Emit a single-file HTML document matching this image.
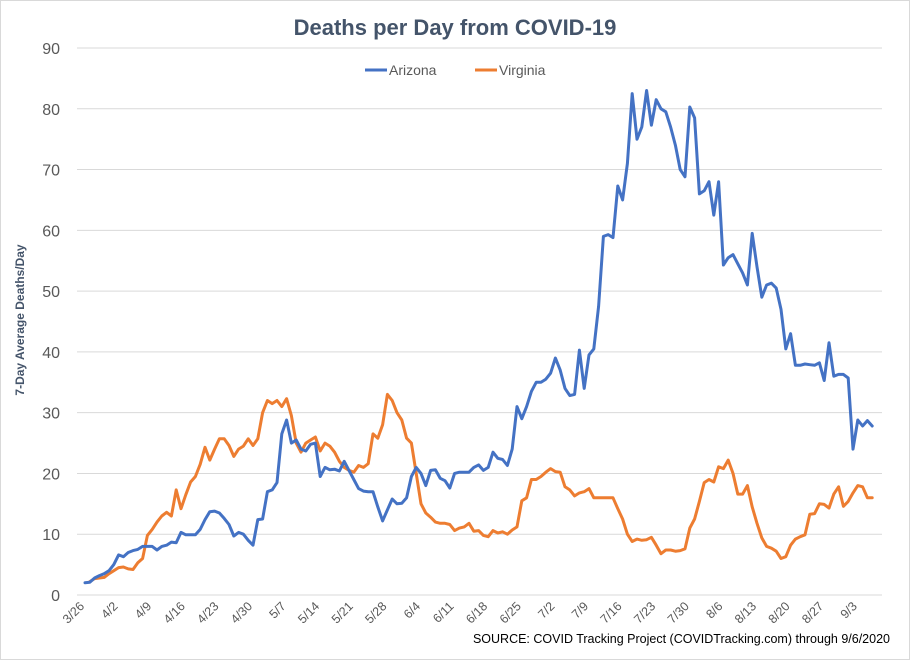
<!DOCTYPE html>
<html><head><meta charset="utf-8"><style>
body{margin:0;background:#fff}
svg{display:block;font-family:"Liberation Sans",sans-serif}
</style></head><body>
<svg id="chart" width="910" height="660">
<rect x="0.5" y="0.5" width="909" height="659" fill="#fff" stroke="#d9d9d9"/>
<text x="455" y="35" text-anchor="middle" font-size="22" font-weight="bold" fill="#44546a">Deaths per Day from COVID-19</text>
<g>
<g><line x1="365" y1="70" x2="387" y2="70" stroke="#4472c4" stroke-width="3"/><text x="389" y="75" font-size="14" fill="#595959">Arizona</text></g>
<g><line x1="475" y1="70" x2="497" y2="70" stroke="#ed7d31" stroke-width="3"/><text x="499" y="75" font-size="14" fill="#595959">Virginia</text></g>
</g>
<text transform="translate(24,320) rotate(-90)" text-anchor="middle" font-size="12" font-weight="bold" fill="#44546a">7-Day Average Deaths/Day</text>
<g id="grid"></g><g id="yt"></g><g id="xt"></g><g id="series"></g>
<text x="890" y="643" text-anchor="end" font-size="12.5" fill="#000">SOURCE: COVID Tracking Project (COVIDTracking.com) through 9/6/2020</text>
</svg>
<script>
const yTicks=[0,10,20,30,40,50,60,70,80,90];
const xLabels=["3/26","4/2","4/9","4/16","4/23","4/30","5/7","5/14","5/21","5/28","6/4","6/11","6/18","6/25","7/2","7/9","7/16","7/23","7/30","8/6","8/13","8/20","8/27","9/3"];
const arizona=[2,2.1,2.8,3.2,3.5,4,5,6.6,6.3,7,7.3,7.5,8,8,8,7.4,8,8.2,8.7,8.6,10.3,9.9,9.9,9.9,10.8,12.4,13.7,13.8,13.5,12.6,11.6,9.7,10.3,10,9,8.2,12.4,12.5,17,17.3,18.5,26.5,28.8,25,25.5,24,23.7,24.8,25,19.5,21,20.6,20.7,20.4,22,20.5,19,17.5,17.1,17,17,14.5,12.2,14,15.8,15,15.1,16,19.5,21,20,18,20.5,20.6,19.2,18.8,17.6,20,20.2,20.2,20.2,21,21.4,20.5,21,23.5,22.5,22.3,21.3,24,31,29,31,33.5,35,35,35.5,36.5,39,37,34,32.8,33,40.3,34,39.5,40.5,47.5,59,59.3,58.8,67.3,65,71,82.5,75,77,83,77.3,81.5,80,79.5,77,74,70,68.8,80.3,78.5,66,66.5,68,62.5,68,54.3,55.5,56,54.5,53,51,59.5,54,49,51,51.3,50.5,47,40.5,43,37.8,37.8,38,37.9,37.8,38.2,35.3,41.5,36,36.3,36.3,35.7,24,28.8,27.8,28.7,27.8];
const virginia=[null,2.2,2.7,2.8,2.9,3.5,4,4.5,4.6,4.3,4.2,5.3,6,9.8,10.8,12,13,13.6,13,17.3,14.2,16.5,18.6,19.5,21.5,24.3,22.2,24,25.7,25.7,24.6,22.8,24,24.5,25.7,24.6,25.7,30,32,31.5,32,31,32.3,29.5,25,23.5,25,25.5,26,23.7,25,24.5,23.5,22,21,20.5,20.2,21.3,21,21.6,26.5,25.8,28,33,32,30,28.8,25.8,25,20,15,13.5,12.8,12,11.8,11.8,11.6,10.6,11,11.2,11.8,10.5,10.6,9.8,9.6,10.6,10.2,10.4,10,10.7,11.2,15.5,16,19,19,19.5,20.2,20.8,20.3,20.2,17.8,17.3,16.3,16.8,17,17.5,16,16,16,16,16,14.2,12.5,10,8.8,9.2,9,9.1,9.5,8.2,6.8,7.4,7.4,7.2,7.3,7.6,11,12.5,15.4,18.5,19,18.6,21.1,20.8,22.2,20,16.6,16.6,18,14.5,11.8,9.4,8,7.7,7.2,6,6.3,8.2,9.2,9.6,9.9,13.3,13.4,15,14.9,14.3,16.6,17.8,14.6,15.4,16.8,18,17.8,16,16];
const NS="http://www.w3.org/2000/svg";
const X0=85,DX=4.8,Y0=595,YMAX=90,YTOP=48,PL=77,PR=882;
const xs=i=>X0+i*DX, ys=v=>Y0-(v/YMAX)*(Y0-YTOP);
function mk(t,a,p){const e=document.createElementNS(NS,t);for(const k in a)e.setAttribute(k,a[k]);p.appendChild(e);return e;}
const grid=document.getElementById('grid'),yt=document.getElementById('yt'),xt=document.getElementById('xt'),ser=document.getElementById('series');
yTicks.forEach(v=>{
 const l=mk('line',{x1:PL,x2:PR,y1:ys(v),y2:ys(v),stroke:'#d9d9d9','stroke-width':1},grid);
 
 
 const t=mk('text',{x:60,y:ys(v)+6,'text-anchor':'end','font-size':16,fill:'#595959'},yt);
 t.textContent=v;
 
 
});
xLabels.forEach((s,k)=>{
 const x=xs(k*7),y=Y0+12;
 const t=mk('text',{x:x,y:y,'text-anchor':'end','font-size':12.5,fill:'#595959',transform:`rotate(-45 ${x} ${y})`},xt);
 t.textContent=s;
 
 
});
function line(arr,col,name){
 let d='';arr.forEach((v,i)=>{if(v==null)return;d+=(d?'L':'M')+xs(i).toFixed(1)+','+ys(v).toFixed(1);});
 const p=mk('path',{d:d,fill:'none',stroke:col,'stroke-width':3,'stroke-linejoin':'round','stroke-linecap':'round'},ser);
 
 
}
line(virginia,'#ed7d31','virginia-line');
line(arizona,'#4472c4','arizona-line');
</script>
</body></html>
